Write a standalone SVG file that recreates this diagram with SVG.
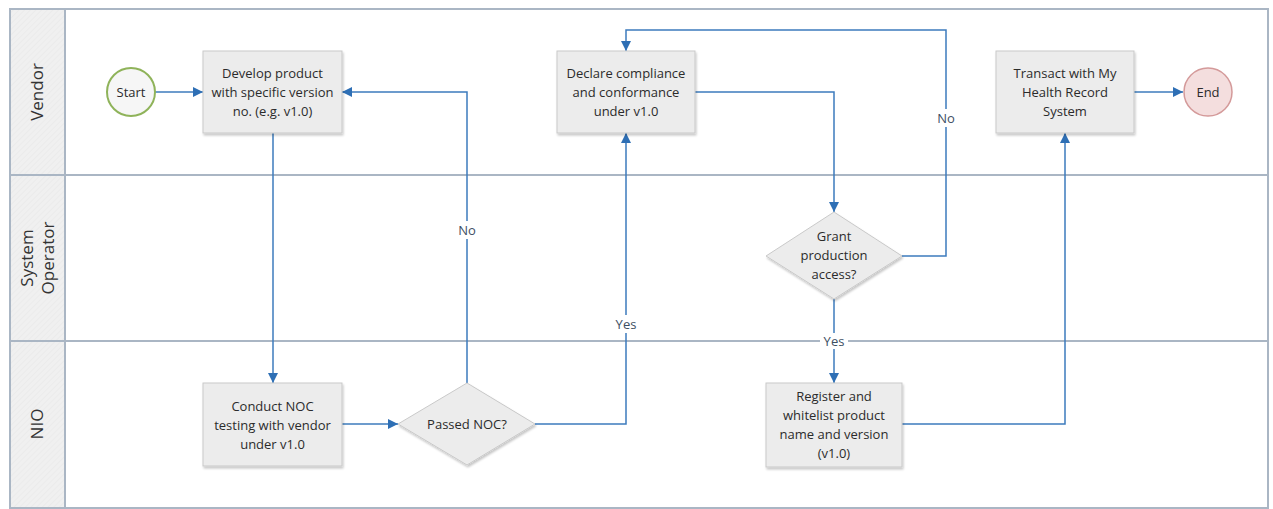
<svg xmlns="http://www.w3.org/2000/svg" width="1273" height="509" viewBox="0 0 1273 509">
<style>
.lane{fill:none;stroke:#aab6c4;stroke-width:2}
.lbl{font-family:"Open Sans","Noto Sans",sans-serif;font-size:17px;fill:#333;text-anchor:middle}
.box{fill:#ececec;stroke:#c9c9c9;stroke-width:1;filter:url(#sh)}
.t{font-family:"Open Sans","Noto Sans",sans-serif;font-size:13px;fill:#2b2b2b;text-anchor:middle}
.c{fill:none;stroke:#3c7bbd;stroke-width:1.5;marker-end:url(#ah)}
.el{font-family:"Open Sans","Noto Sans",sans-serif;font-size:13px;fill:#3d4f63;text-anchor:middle}
.elbg{fill:#ffffff}
</style>
<defs>
<marker id="ah" markerUnits="userSpaceOnUse" markerWidth="10" markerHeight="10" refX="10" refY="5" orient="auto">
<path d="M0,0 L10,5 L0,10 z" fill="#2e6fb5"/>
</marker>
<filter id="sh" x="-10%" y="-10%" width="125%" height="130%">
<feDropShadow dx="1" dy="2" stdDeviation="1.2" flood-color="#000" flood-opacity="0.22"/>
</filter>
<pattern id="hatch" width="4" height="4" patternUnits="userSpaceOnUse" patternTransform="rotate(45)">
<rect width="4" height="4" fill="#f0f0f0"/>
<line x1="0" y1="0" x2="0" y2="4" stroke="#e6e6e6" stroke-width="1"/>
</pattern>
</defs>
<rect x="0" y="0" width="1273" height="509" fill="#ffffff"/>
<g id="lanes">
<rect x="10" y="9" width="55" height="499" fill="url(#hatch)"/>
<line class="lane" x1="10" y1="175" x2="1268" y2="175"/>
<line class="lane" x1="10" y1="341" x2="1268" y2="341"/>
<line class="lane" x1="65" y1="9" x2="65" y2="508"/>
<rect class="lane" x="10" y="9" width="1258" height="499"/>
<text class="lbl" transform="translate(43,92) rotate(-90)">Vendor</text>
<text class="lbl" transform="translate(33,258) rotate(-90)">System</text>
<text class="lbl" transform="translate(54,258) rotate(-90)">Operator</text>
<text class="lbl" transform="translate(43,424) rotate(-90)">NIO</text>
</g>
<g id="connectors">
<path class="c" d="M155,92 L203,92"/>
<path class="c" d="M273,133 L273,383"/>
<path class="c" d="M342,424 L398,424"/>
<path class="c" d="M467,383 L467,92 L342,92"/>
<path class="c" d="M535,424 L626,424 L626,133"/>
<path class="c" d="M695,92 L834,92 L834,212"/>
<path class="c" d="M902,256 L946,256 L946,30 L626,30 L626,51"/>
<path class="c" d="M834,299 L834,383"/>
<path class="c" d="M902,424 L1065,424 L1065,133"/>
<path class="c" d="M1134,92 L1183,92"/>
<rect class="elbg" x="455" y="221" width="24" height="18"/>
<text class="el" x="467" y="235">No</text>
<rect class="elbg" x="612" y="315" width="28" height="18"/>
<text class="el" x="626" y="329">Yes</text>
<rect class="elbg" x="934" y="109" width="24" height="18"/>
<text class="el" x="946" y="123">No</text>
<rect class="elbg" x="820" y="333" width="28" height="16"/>
<text class="el" x="834" y="346">Yes</text>
</g>
<g id="start">
<circle cx="131" cy="92" r="24" fill="#f6f6f6" stroke="#8fb35a" stroke-width="2"/>
<text class="t" x="131" y="97">Start</text>
</g>
<g id="develop">
<rect class="box" x="203" y="51" width="139" height="82"/>
<text class="t" x="272.5" y="78">Develop product</text>
<text class="t" x="272.5" y="97">with specific version</text>
<text class="t" x="272.5" y="116">no. (e.g. v1.0)</text>
</g>
<g id="declare">
<rect class="box" x="557" y="51" width="138" height="82"/>
<text class="t" x="626" y="78">Declare compliance</text>
<text class="t" x="626" y="97">and conformance</text>
<text class="t" x="626" y="116">under v1.0</text>
</g>
<g id="transact">
<rect class="box" x="996" y="51" width="138" height="82"/>
<text class="t" x="1065" y="78">Transact with My</text>
<text class="t" x="1065" y="97">Health Record</text>
<text class="t" x="1065" y="116">System</text>
</g>
<g id="end">
<circle cx="1208" cy="92" r="24" fill="#f4dede" stroke="#d49a9a" stroke-width="1.5"/>
<text class="t" x="1208" y="97">End</text>
</g>
<g id="grant">
<polygon class="box" points="834,212 902,256 834,299 766,256"/>
<text class="t" x="834" y="241">Grant</text>
<text class="t" x="834" y="260">production</text>
<text class="t" x="834" y="279">access?</text>
</g>
<g id="conduct">
<rect class="box" x="203" y="383" width="139" height="83"/>
<text class="t" x="272.5" y="411">Conduct NOC</text>
<text class="t" x="272.5" y="430">testing with vendor</text>
<text class="t" x="272.5" y="449">under v1.0</text>
</g>
<g id="passed">
<polygon class="box" points="467,383 535,424 467,465 398,424"/>
<text class="t" x="467" y="429">Passed NOC?</text>
</g>
<g id="register">
<rect class="box" x="766" y="383" width="136" height="84"/>
<text class="t" x="834" y="401">Register and</text>
<text class="t" x="834" y="420">whitelist product</text>
<text class="t" x="834" y="439">name and version</text>
<text class="t" x="834" y="458">(v1.0)</text>
</g>
</svg>
